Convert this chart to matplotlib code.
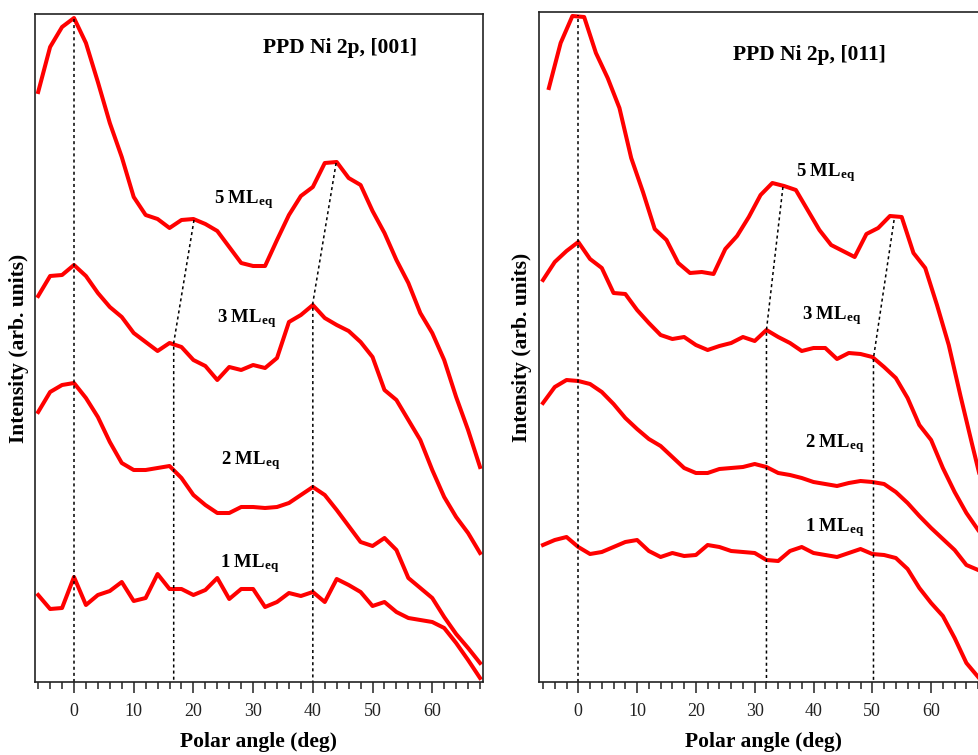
import numpy as np
import matplotlib
matplotlib.use("Agg")
import matplotlib.pyplot as plt

plt.rcParams['font.family'] = ['Liberation Serif', 'DejaVu Serif']
plt.rcParams['mathtext.fontset'] = 'custom'
plt.rcParams['mathtext.rm'] = 'Liberation Serif'
plt.rcParams['mathtext.bf'] = 'Liberation Serif:bold'
plt.rcParams['mathtext.it'] = 'Liberation Serif:italic'

# ---------------- data (arb. units) ----------------
angles_even = np.arange(-6, 69, 2)          # -6 ... 68
angles_odd = np.arange(-5, 70, 2)           # -5 ... 69

# [001] azimuth (left panel)
l001_5ml = [590, 635, 655, 664, 639, 600, 559, 525, 485, 467, 463, 454, 462, 463, 458, 451, 435, 419, 416,
            416, 442, 467, 486, 495, 519, 520, 504, 497, 471, 449, 422, 399, 369, 349, 322, 285, 252, 215]
l001_3ml = [386, 406, 407, 417, 406, 389, 375, 365, 349, 340, 331, 339, 335, 322, 316, 302, 315, 312, 317,
            314, 324, 360, 367, 377, 364, 357, 351, 340, 325, 292, 282, 262, 242, 212, 185, 165, 149, 129]
l001_2ml = [270, 290, 297, 299, 284, 265, 240, 219, 212, 212, 214, 216, 204, 187, 177, 169, 169, 175, 175,
            174, 175, 179, 187, 195, 187, 172, 156, 140, 136, 144, 132, 104, 94, 84, 65, 48, 34, 19]
l001_1ml = [87, 73, 74, 105, 77, 87, 91, 100, 81, 84, 108, 93, 93, 87, 92, 104, 83, 93, 93,
            75, 80, 89, 86, 90, 80, 103, 97, 90, 76, 80, 70, 64, 62, 60, 54, 39, 22, 4]

# [011] azimuth (right panel)
r011_5ml = [594, 639, 666, 665, 629, 604, 574, 524, 490, 453, 442, 419, 409, 410, 408, 433, 446, 465, 487,
            499, 496, 492, 472, 452, 437, 431, 425, 448, 454, 466, 465, 429, 414, 377, 337, 286, 237, 189]
r011_3ml = [402, 420, 431, 440, 423, 414, 389, 388, 372, 359, 347, 343, 345, 337, 332, 336, 339, 345, 341,
            352, 345, 339, 331, 334, 334, 323, 329, 328, 325, 315, 304, 284, 257, 242, 214, 190, 169, 152]
r011_2ml = [279, 295, 302, 301, 298, 290, 278, 264, 253, 243, 236, 225, 214, 209, 209, 213, 214, 215, 218,
            215, 209, 207, 204, 200, 198, 196, 199, 201, 200, 198, 190, 179, 166, 154, 143, 132, 117, 112]
r011_1ml = [137, 142, 145, 135, 128, 130, 135, 140, 142, 131, 125, 129, 126, 127, 137, 135, 131, 130, 129,
            122, 121, 131, 135, 129, 127, 125, 129, 133, 128, 127, 124, 113, 94, 79, 66, 44, 19, 5]

# guide lines (angle, intensity) pairs
l001_guides = [
    ([0, 0], [0, 664]),
    ([20.1, 16.7, 16.7], [462, 339, 0]),
    ([43.9, 40.0, 40.0], [519, 379, 0]),
]
r011_guides = [
    ([0, 0], [0, 667]),
    ([34.8, 32.0, 32.0], [495, 352, 0]),
    ([53.7, 50.2, 50.2], [462, 324, 0]),
]

l001_labels = [(23.45, 479, '5'), (23.9, 360, '3'), (24.6, 218, '2'), (24.45, 115, '1')]
r011_labels = [(37.1, 506, '5'), (38.0, 363, '3'), (38.55, 235, '2'), (38.55, 151, '1')]

titles = ['PPD Ni 2p, [001]', 'PPD Ni 2p, [011]']

# ---------------- figure ----------------
W, H = 979, 755
fig = plt.figure(figsize=(W / 100, H / 100), dpi=100)
axL = fig.add_axes([35 / W, 73 / H, 448 / W, 668 / H])
axR = fig.add_axes([539 / W, 73 / H, 442.8 / W, 670 / H])

red = '#ff0000'
lw = 2.9


def style(ax, xlim, ylim):
    ax.set_xlim(*xlim)
    ax.set_ylim(*ylim)
    ax.set_yticks([])
    ax.set_xticks(np.arange(0, 61, 10))
    ax.set_xticks(np.arange(-6, 69, 2), minor=True)
    ax.tick_params(axis='x', which='major', direction='out', length=8, width=1.1,
                   labelsize=13, pad=7, colors='#222222')
    ax.tick_params(axis='x', which='minor', direction='out', length=5, width=1.1, colors='#222222')
    for s in ax.spines.values():
        s.set_linewidth(1.2)
        s.set_color('#222222')


# left panel
for ys in (l001_5ml, l001_3ml, l001_2ml, l001_1ml):
    axL.plot(angles_even, ys, color=red, lw=lw)
for gx, gy in l001_guides:
    axL.plot(gx, gy, color='black', lw=1.1, linestyle=(0, (2, 2)))
for x, y, n in l001_labels:
    axL.text(x, y, r'$\mathbf{%s\ ML_{eq}}$' % n, fontsize=13.5, ha='left', va='baseline')
style(axL, (-6.53, 68.5), (0, 668))
axL.text(0.681, 0.949, titles[0], transform=axL.transAxes, fontsize=15.5, fontweight='bold',
         ha='center', va='center')

# right panel
axR.plot(angles_odd, r011_5ml, color=red, lw=lw)
for ys in (r011_3ml, r011_2ml, r011_1ml):
    axR.plot(angles_even, ys, color=red, lw=lw)
for gx, gy in r011_guides:
    axR.plot(gx, gy, color='black', lw=1.1, linestyle=(0, (2, 2)))
for x, y, n in r011_labels:
    axR.text(x, y, r'$\mathbf{%s\ ML_{eq}}$' % n, fontsize=13.5, ha='left', va='baseline')
style(axR, (-6.68, 68.62), (0, 670))
axR.text(0.611, 0.936, titles[1], transform=axR.transAxes, fontsize=15.5, fontweight='bold',
         ha='center', va='center')

for ax, ylx in ((axL, -0.0357), (axR, -0.039)):
    ax.set_xlabel('Polar angle (deg)', fontsize=15.5, fontweight='bold', va='center')
    ax.set_ylabel('Intensity (arb. units)', fontsize=15.5, fontweight='bold', va='center')
    ax.yaxis.set_label_coords(ylx, 0.5)

axL.xaxis.set_label_coords(0.5, (682 - 742.5) / 668)
axR.xaxis.set_label_coords((763.3 - 539) / 442.8, (682 - 741.5) / 670)

fig.savefig('out.png', dpi=100)
